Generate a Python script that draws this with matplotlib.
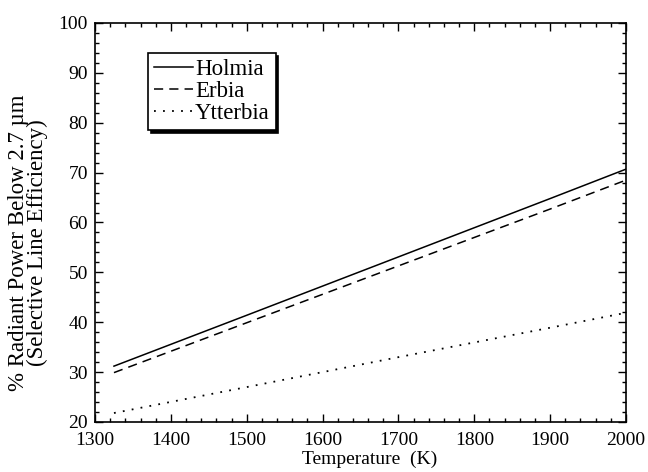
import matplotlib.pyplot as plt
from matplotlib.ticker import MultipleLocator

# values
temperature = [1325, 1500, 1700, 1900, 2000]
holmia = [31.2, 41.4, 53.1, 64.8, 70.7]
erbia = [29.9, 39.9, 51.3, 62.7, 68.5]
ytterbia = [21.8, 27.0, 33.0, 38.9, 41.9]

plt.rcParams['font.family'] = ['Liberation Serif', 'DejaVu Serif']
plt.rcParams['font.size'] = 14

fig = plt.figure(figsize=(6.48, 4.72), dpi=100)
ax = fig.add_axes([95 / 648, 1 - 422 / 472, 531 / 648, 399 / 472])

ax.plot(temperature, holmia, color='black', lw=1.1, ls='-', label='Holmia')
ax.plot(temperature, erbia, color='black', lw=1.1, ls=(0, (6, 4)), label='Erbia')
ax.plot(temperature, ytterbia, color='black', lw=1.3, ls=(0, (1, 4)), label='Ytterbia')

ax.set_xlim(1300, 2000)
ax.set_ylim(20, 100)
ax.xaxis.set_major_locator(MultipleLocator(100))
ax.xaxis.set_minor_locator(MultipleLocator(20))
ax.yaxis.set_major_locator(MultipleLocator(10))
ax.yaxis.set_minor_locator(MultipleLocator(2))
ax.tick_params(which='both', direction='in', top=True, right=True, width=1)
ax.tick_params(which='major', length=6)
ax.tick_params(axis='x', which='major', pad=7)
ax.tick_params(axis='y', which='major', pad=5)
ax.tick_params(which='minor', length=3)
for s in ax.spines.values():
    s.set_linewidth(1.2)

ax.set_xlabel('Temperature  (K)', fontsize=14)
ax.xaxis.set_label_coords(0.517, -0.073)
ax.set_ylabel('% Radiant Power Below 2.7 µm\n(Selective Line Efficiency)', fontsize=16.5,
              linespacing=0.85)
ax.yaxis.set_label_coords(-0.089, 0.45)

leg = ax.legend(loc='upper left', bbox_to_anchor=(0.1, 0.925), frameon=True, fancybox=False,
                shadow={'color': 'black', 'alpha': 1}, fontsize=16.5, handlelength=1.7,
                handletextpad=0.1, labelspacing=0.05, borderpad=0.25, borderaxespad=0)
leg.get_frame().set_edgecolor('black')
leg.get_frame().set_linewidth(1.2)
leg.get_frame().set_alpha(1)

fig.savefig('out.png', dpi=100)
